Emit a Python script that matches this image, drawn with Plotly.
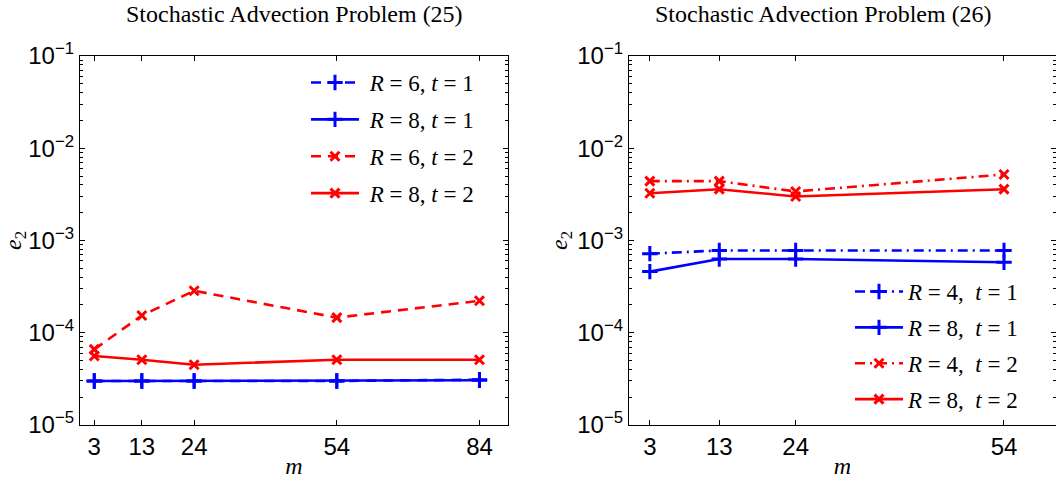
import plotly.graph_objects as go

W, H = 1056, 479

# ---------------- data ----------------
m_left = [3, 13, 24, 54, 84]
left_R6_t1 = [3.0e-5, 3.0e-5, 3.0e-5, 3.0e-5, 3.1e-5]
left_R8_t1 = [3.0e-5, 3.0e-5, 3.0e-5, 3.0e-5, 3.05e-5]
left_R6_t2 = [6.6e-5, 1.54e-4, 2.85e-4, 1.46e-4, 2.22e-4]
left_R8_t2 = [5.6e-5, 5.1e-5, 4.5e-5, 5.1e-5, 5.1e-5]

m_right = [3, 13, 24, 54]
right_R4_t1 = [7.2e-4, 7.8e-4, 7.8e-4, 7.8e-4]
right_R8_t1 = [4.6e-4, 6.3e-4, 6.3e-4, 5.8e-4]
right_R4_t2 = [4.4e-3, 4.4e-3, 3.4e-3, 5.2e-3]
right_R8_t2 = [3.25e-3, 3.6e-3, 3.0e-3, 3.6e-3]

y_tickvals = [1e-5, 1e-4, 1e-3, 1e-2, 1e-1]
y_ticktext = ["10<sup>\u22125</sup>", "10<sup>\u22124</sup>", "10<sup>\u22123</sup>",
              "10<sup>\u22122</sup>", "10<sup>\u22121</sup>"]
titles = ["Stochastic Advection Problem (25)", "Stochastic Advection Problem (26)"]

BLUE = "#0000ff"
RED = "#ff0000"
SERIF = "Liberation Serif, Times New Roman, serif"
SANS = "Liberation Sans, Arial, sans-serif"

minor_vals = [k * 10 ** e for e in range(-5, -1) for k in range(2, 10)]

fig = go.Figure()

def add(x, y, name, color, dash, symbol, xa, ya, legend, grp):
    size = 11 if symbol == "cross-thin" else 9
    fig.add_trace(go.Scatter(
        x=x, y=y, name=name, mode="lines+markers",
        line=dict(color=color, width=2.6, dash=dash),
        marker=dict(symbol=symbol, size=size, color=color,
                    line=dict(color=color, width=3)),
        xaxis=xa, yaxis=ya, legend=legend, legendgroup=grp,
    ))

add(m_left, left_R6_t1, "&nbsp;<i>R</i> = 6, <i>t</i> = 1", BLUE, "10px,7px", "cross-thin", "x", "y", "legend", "a1")
add(m_left, left_R8_t1, "&nbsp;<i>R</i> = 8, <i>t</i> = 1", BLUE, "solid", "cross-thin", "x", "y", "legend", "a2")
add(m_left, left_R6_t2, "&nbsp;<i>R</i> = 6, <i>t</i> = 2", RED, "10px,7px", "x-thin", "x", "y", "legend", "a3")
add(m_left, left_R8_t2, "&nbsp;<i>R</i> = 8, <i>t</i> = 2", RED, "solid", "x-thin", "x", "y", "legend", "a4")

add(m_right, right_R4_t1, "<i>R</i> = 4,&nbsp;&nbsp;<i>t</i> = 1", BLUE, "10px,5px,2px,5px", "cross-thin", "x2", "y2", "legend2", "b1")
add(m_right, right_R8_t1, "<i>R</i> = 8,&nbsp;&nbsp;<i>t</i> = 1", BLUE, "solid", "cross-thin", "x2", "y2", "legend2", "b2")
add(m_right, right_R4_t2, "<i>R</i> = 4,&nbsp;&nbsp;<i>t</i> = 2", RED, "10px,5px,2px,5px", "x-thin", "x2", "y2", "legend2", "b3")
add(m_right, right_R8_t2, "<i>R</i> = 8,&nbsp;&nbsp;<i>t</i> = 2", RED, "solid", "x-thin", "x2", "y2", "legend2", "b4")

ydom = [1 - 425 / H, 1 - 56 / H]

def xaxis(domain, rng, ticks, anchor):
    return dict(domain=domain, range=rng, anchor=anchor, automargin=False,
                tickvals=ticks, ticktext=[str(v) for v in ticks],
                ticks="inside", ticklen=5, tickwidth=1, tickcolor="black",
                showline=True, linecolor="black", linewidth=1.3, mirror="allticks",
                showgrid=False, zeroline=False,
                tickfont=dict(family=SANS, size=24, color="black"),
                title=dict(text="<i>m</i>", font=dict(family=SERIF, size=24, color="black"), standoff=0))

def yaxis(anchor):
    return dict(domain=ydom, type="log", range=[-5, -1], anchor=anchor, automargin=False,
                tickvals=y_tickvals, ticktext=y_ticktext,
                ticks="inside", ticklen=5, tickwidth=1, tickcolor="black",
                minor=dict(tickvals=minor_vals, ticks="inside", ticklen=3, tickcolor="black", tickwidth=1, showgrid=False),
                showline=True, linecolor="black", linewidth=1.3, mirror="allticks",
                showgrid=False, zeroline=False,
                tickfont=dict(family=SANS, size=24, color="black"),
                title=dict(text="<i>e</i><sub>2</sub>", font=dict(family=SERIF, size=24, color="black"), standoff=2))

fig.update_layout(
    width=W, height=H,
    margin=dict(l=0, r=0, t=0, b=0),
    paper_bgcolor="white", plot_bgcolor="white",
    xaxis=xaxis([80 / W, 508 / W], [0, 90], m_left, "y"),
    yaxis=yaxis("x"),
    xaxis2=xaxis([629 / W, 1.0], [0, 61.49], m_right, "y2"),
    yaxis2=yaxis("x2"),
    legend=dict(x=306 / W, y=1 - 61 / H, xanchor="left", yanchor="top",
                bgcolor="rgba(0,0,0,0)", borderwidth=0, itemwidth=48,
                tracegroupgap=4,
                font=dict(family=SERIF, size=23, color="black")),
    legend2=dict(x=850 / W, y=1 - 270 / H, xanchor="left", yanchor="top",
                 bgcolor="rgba(0,0,0,0)", borderwidth=0, itemwidth=48,
                 tracegroupgap=3,
                 font=dict(family=SERIF, size=23, color="black")),
    annotations=[
        dict(text=titles[0], x=294 / W, y=1.0, xref="paper", yref="paper",
             showarrow=False, xanchor="center", yanchor="top", borderpad=0,
             font=dict(family=SERIF, size=24, color="black")),
        dict(text=titles[1], x=823 / W, y=1.0, xref="paper", yref="paper",
             showarrow=False, xanchor="center", yanchor="top", borderpad=0,
             font=dict(family=SERIF, size=24, color="black")),
    ],
    showlegend=True,
)

fig.write_html("out.html")
